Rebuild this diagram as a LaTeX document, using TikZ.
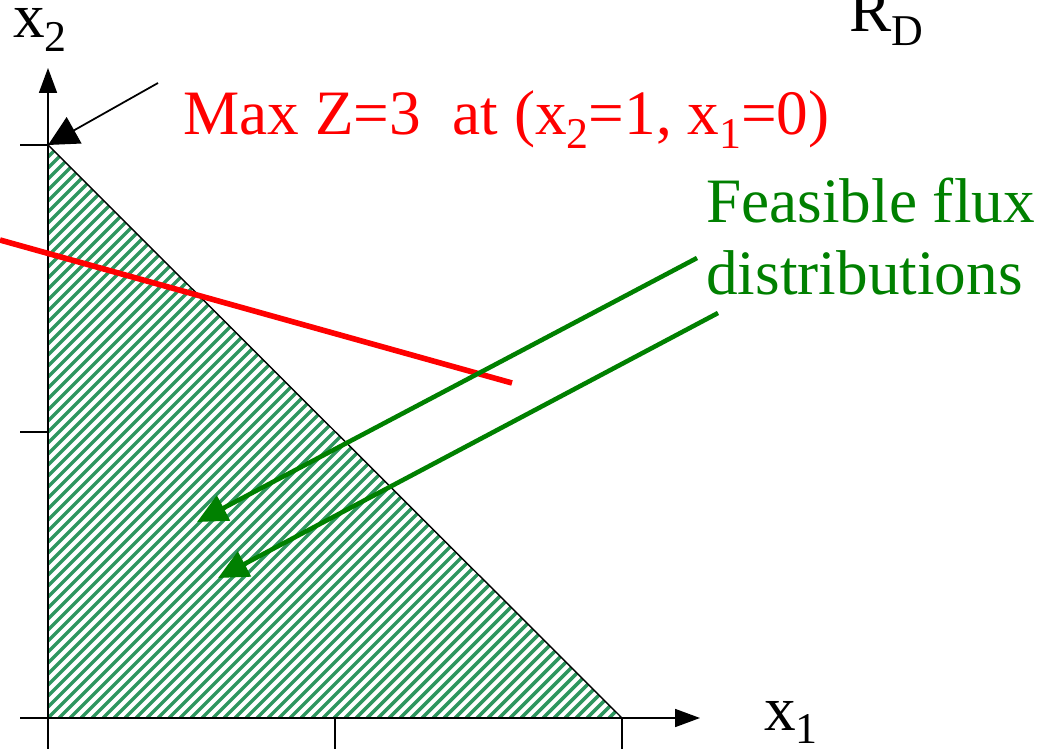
\documentclass[tikz,border=0pt]{standalone}
\usepackage{fontspec}
\setmainfont{Liberation Serif}
\usepackage{tikz}
\usetikzlibrary{arrows.meta,positioning,calc}
\definecolor{lpred}{HTML}{FF0000}
\definecolor{lpgreen}{HTML}{008000}
\definecolor{lphatch}{RGB}{46,150,95}
\newcommand\lowidx[1]{\raisebox{-0.22em}{\fontsize{25}{25}\selectfont #1}}
\tikzstyle{axis} = [-{Triangle[length=5mm, width=3.6mm]}, line width=1pt, black]
\tikzstyle{tick} = [line width=1pt, black]
\tikzstyle{lbl} = [inner sep=0pt, anchor=base west, font=\fontsize{36}{41}\selectfont]
\tikzstyle{greenarrow} = [-{Triangle[length=6mm, width=5.5mm]}, line width=2.6pt, lpgreen]

\begin{document}
\begin{tikzpicture}[x=0.02cm, y=-0.02cm]
\useasboundingbox (0,0) rectangle (1053,749);

% corner points
\coordinate (O) at (48,718);
\coordinate (top) at (48,145);
\coordinate (right) at (622,718);

% hatched feasible region
\begin{scope}
\clip (O) -- (top) -- (right) -- cycle;
\foreach \c in {-700,-689,...,630}
  \draw[lphatch, line width=2pt] (\c,718) -- ++(720,-720);
\end{scope}
\draw[line width=0.8pt] (top) -- (right);

% axes
\coordinate (xend) at (700,718);
\coordinate (yend) at (48,68);
\draw[axis] (O) -- (xend);
\draw[axis] (O) -- (yend);
\coordinate (mid) at (335,718);
\draw[tick] (20,718) -- (O) -- ++(0,31);
\draw[tick] (mid) -- ++(0,31);
\draw[tick] (right) -- ++(0,31);
\coordinate (ymid) at (48,432);
\draw[tick] (ymid) -- ++(-28,0);
\draw[tick] (top) -- ++(-28,0);

% labels
\node[lbl] (xtwo) at (13,38) {x\lowidx{2}};
\node[lbl] (xone) at (764,730) {x\lowidx{1}};
\node[lbl] (rd) at (849,32) {R\lowidx{D}};
\node[lbl, text=lpred] (maxz) at (183,135) {Max Z=3\ \ at (x\lowidx{2}=1, x\lowidx{1}=0)};
\node[lbl, text=lpgreen, align=left, anchor=north west] (feas) at (706,178)
  {Feasible flux\\distributions};

% objective line
\coordinate (za) at (0,240);
\coordinate (zb) at (512,383);
\draw[lpred, line width=3.2pt] (za) -- (zb);

% pointer to optimum
\coordinate (ptr) at (158,83);
\draw[-{Triangle[length=6mm, width=6mm]}, line width=1pt] (ptr) -- (top);

% arrows into region
\coordinate (ga) at (697,258);
\coordinate (gb) at (197,522);
\coordinate (gc) at (718,313);
\coordinate (gd) at (218,578);
\draw[greenarrow] (ga) -- (gb);
\draw[greenarrow] (gc) -- (gd);

\end{tikzpicture}
\end{document}
